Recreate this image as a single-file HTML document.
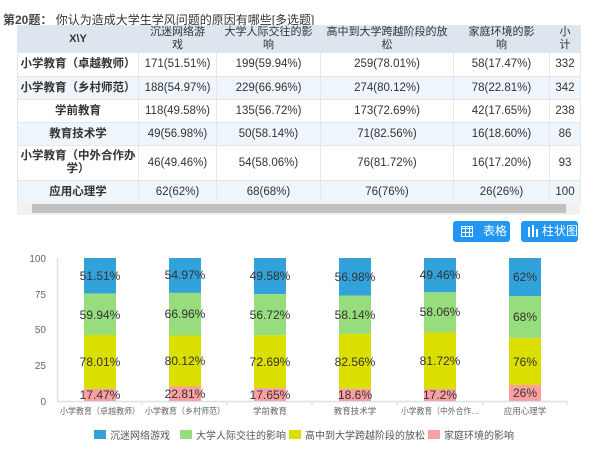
<!DOCTYPE html>
<html><head><meta charset="utf-8"><style>
*{margin:0;padding:0;box-sizing:border-box}
body{width:600px;height:450px;background:#fff;font-family:"Liberation Sans","Noto Sans CJK SC",sans-serif;position:relative;overflow:hidden;color:#333}
.t{position:absolute;font-size:12px;white-space:nowrap}
table{position:absolute;left:17px;top:25px;width:563px;border-collapse:collapse;font-size:11.5px;table-layout:fixed}
td,th{border:1px solid #e3e8ee;text-align:center;vertical-align:middle;line-height:13px;padding:0 2px}
th{background:#dde6ee;font-weight:normal;height:25px;color:#333;font-size:11px}
td.h{font-weight:bold}
tr.a td{background:#eef5fb}
.btn{position:absolute;top:221px;height:21px;width:57px;background:#2196f3;border-radius:3px;color:#fff;font-size:12px;line-height:21px}
</style></head><body>
<div class="t" style="left:3px;top:11px;"><b style="color:#444">第20题：</b> 你认为造成大学生学风问题的原因有哪些[多选题]</div>
<table>
<colgroup><col style="width:121px"><col style="width:78px"><col style="width:104px"><col style="width:133px"><col style="width:96px"><col style="width:31px"></colgroup>
<tr><th><b>X\Y</b></th><th>沉迷网络游<br>戏</th><th>大学人际交往的影<br>响</th><th>高中到大学跨越阶段的放<br>松</th><th>家庭环境的影<br>响</th><th>小<br>计</th></tr>
<tr style="height:24px"><td class="h">小学教育（卓越教师）</td><td>171(51.51%)</td><td>199(59.94%)</td><td>259(78.01%)</td><td>58(17.47%)</td><td>332</td></tr>
<tr class="a" style="height:23px"><td class="h">小学教育（乡村师范）</td><td>188(54.97%)</td><td>229(66.96%)</td><td>274(80.12%)</td><td>78(22.81%)</td><td>342</td></tr>
<tr style="height:23px"><td class="h">学前教育</td><td>118(49.58%)</td><td>135(56.72%)</td><td>173(72.69%)</td><td>42(17.65%)</td><td>238</td></tr>
<tr class="a" style="height:23px"><td class="h">教育技术学</td><td>49(56.98%)</td><td>50(58.14%)</td><td>71(82.56%)</td><td>16(18.60%)</td><td>86</td></tr>
<tr style="height:35px"><td class="h">小学教育（中外合作办<br>学）</td><td>46(49.46%)</td><td>54(58.06%)</td><td>76(81.72%)</td><td>16(17.20%)</td><td>93</td></tr>
<tr class="a" style="height:23px"><td class="h">应用心理学</td><td>62(62%)</td><td>68(68%)</td><td>76(76%)</td><td>26(26%)</td><td>100</td></tr>
</table>
<div style="position:absolute;left:17px;top:202px;width:563px;height:13px;background:#f1f1f1"></div>
<div style="position:absolute;left:32px;top:204px;width:534px;height:9px;background:#c1c1c1"></div>
<div class="btn" style="left:453px"><span style="position:absolute;left:8px;top:5px;width:12px;height:11px;border:1px solid #fff;background:repeating-linear-gradient(90deg,transparent 0 3px,#fff 3px 4px),repeating-linear-gradient(0deg,transparent 0 3px,#fff 3px 4px)"></span><span style="position:absolute;left:30px">表格</span></div>
<div class="btn" style="left:521px"><span style="position:absolute;left:7px;top:6px;width:2px;height:10px;background:#fff"></span><span style="position:absolute;left:11px;top:4px;width:2px;height:12px;background:#fff"></span><span style="position:absolute;left:15px;top:8px;width:2px;height:8px;background:#fff"></span><span style="position:absolute;left:21px">柱状图</span></div>
<svg width="600" height="450" style="position:absolute;left:0;top:0" font-family="Liberation Sans,Noto Sans CJK SC,sans-serif">
<g font-size="10" fill="#666" text-anchor="end">
<text x="46" y="262">100</text><text x="46" y="298">75</text><text x="46" y="333">50</text><text x="46" y="369">25</text><text x="46" y="405">0</text></g>
<line x1="57.5" y1="258" x2="57.5" y2="401" stroke="#d8e2ee" stroke-width="1.5"/>
<line x1="57" y1="401.5" x2="567" y2="401.5" stroke="#d8e2ee" stroke-width="1.5"/>
<g stroke="#d8e2ee"><line x1="142" y1="401" x2="142" y2="406"/><line x1="227" y1="401" x2="227" y2="406"/><line x1="312" y1="401" x2="312" y2="406"/><line x1="397" y1="401" x2="397" y2="406"/><line x1="483" y1="401" x2="483" y2="406"/><line x1="567" y1="401" x2="567" y2="406"/></g>
<g>
<rect x="84" y="258" width="32" height="35.6" fill="#31a2da"/><rect x="84" y="293.6" width="32" height="41.4" fill="#97dc7d"/><rect x="84" y="335" width="32" height="53.9" fill="#dadf00"/><rect x="84" y="388.9" width="32" height="12.1" fill="#fba0a0"/>
<rect x="169" y="258" width="32" height="34.9" fill="#31a2da"/><rect x="169" y="292.9" width="32" height="42.6" fill="#97dc7d"/><rect x="169" y="335.5" width="32" height="51" fill="#dadf00"/><rect x="169" y="386.5" width="32" height="14.5" fill="#fba0a0"/>
<rect x="254" y="258" width="32" height="36.1" fill="#31a2da"/><rect x="254" y="294.1" width="32" height="41.2" fill="#97dc7d"/><rect x="254" y="335.3" width="32" height="52.9" fill="#dadf00"/><rect x="254" y="388.2" width="32" height="12.8" fill="#fba0a0"/>
<rect x="339" y="258" width="32" height="37.7" fill="#31a2da"/><rect x="339" y="295.7" width="32" height="38.4" fill="#97dc7d"/><rect x="339" y="334.1" width="32" height="54.6" fill="#dadf00"/><rect x="339" y="388.7" width="32" height="12.3" fill="#fba0a0"/>
<rect x="424" y="258" width="32" height="34.3" fill="#31a2da"/><rect x="424" y="292.3" width="32" height="40.2" fill="#97dc7d"/><rect x="424" y="332.5" width="32" height="56.6" fill="#dadf00"/><rect x="424" y="389.1" width="32" height="11.9" fill="#fba0a0"/>
<rect x="509" y="258" width="32" height="38.2" fill="#31a2da"/><rect x="509" y="296.2" width="32" height="41.9" fill="#97dc7d"/><rect x="509" y="338.1" width="32" height="46.9" fill="#dadf00"/><rect x="509" y="385" width="32" height="16" fill="#fba0a0"/>
</g>
<g font-size="12" fill="#333" text-anchor="middle">
<text x="100" y="280">51.51%</text><text x="100" y="319">59.94%</text><text x="100" y="366">78.01%</text><text x="100" y="399">17.47%</text>
<text x="185" y="279">54.97%</text><text x="185" y="318">66.96%</text><text x="185" y="365">80.12%</text><text x="185" y="398">22.81%</text>
<text x="270" y="280">49.58%</text><text x="270" y="319">56.72%</text><text x="270" y="366">72.69%</text><text x="270" y="399">17.65%</text>
<text x="355" y="281">56.98%</text><text x="355" y="319">58.14%</text><text x="355" y="366">82.56%</text><text x="355" y="399">18.6%</text>
<text x="440" y="279">49.46%</text><text x="440" y="316">58.06%</text><text x="440" y="365">81.72%</text><text x="440" y="399">17.2%</text>
<text x="525" y="281">62%</text><text x="525" y="321">68%</text><text x="525" y="366">76%</text><text x="525" y="397">26%</text>
</g>
<g font-size="8.5" fill="#666" text-anchor="middle">
<text x="100" y="414" textLength="80" lengthAdjust="spacingAndGlyphs">小学教育（卓越教师）</text><text x="185" y="414" textLength="80" lengthAdjust="spacingAndGlyphs">小学教育（乡村师范）</text><text x="270" y="414">学前教育</text><text x="355" y="414">教育技术学</text><text x="440" y="414" textLength="78" lengthAdjust="spacingAndGlyphs">小学教育（中外合作…</text><text x="525" y="414">应用心理学</text>
</g>
<g font-size="10" fill="#555">
<rect x="94" y="430" width="12" height="9" fill="#31a2da"/><text x="110" y="439">沉迷网络游戏</text>
<rect x="180" y="430" width="12" height="9" fill="#97dc7d"/><text x="196" y="439">大学人际交往的影响</text>
<rect x="289" y="430" width="12" height="9" fill="#dadf00"/><text x="305" y="439">高中到大学跨越阶段的放松</text>
<rect x="428" y="430" width="12" height="9" fill="#fba0a0"/><text x="444" y="439">家庭环境的影响</text>
</g>
</svg>
</body></html>
